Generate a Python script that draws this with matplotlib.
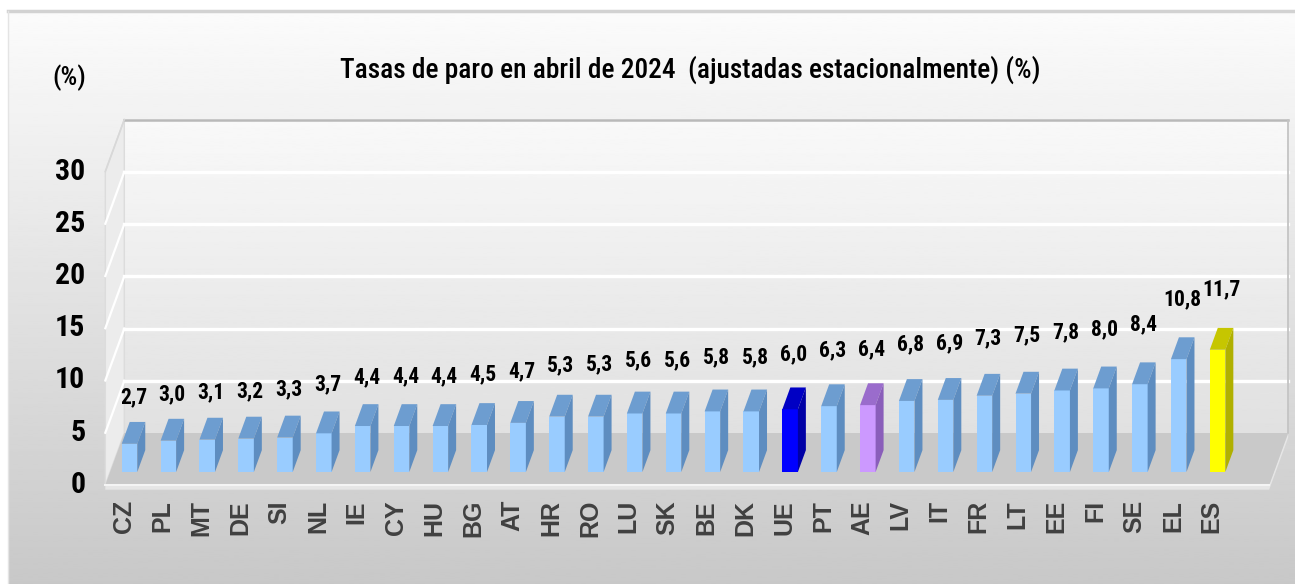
import matplotlib
matplotlib.use('Agg')
import matplotlib.pyplot as plt
import matplotlib.font_manager as fm
from matplotlib.patches import Polygon
import numpy as np

# ==========================================
# datos
# ==========================================
countries = ['CZ', 'PL', 'MT', 'DE', 'SI', 'NL', 'IE', 'CY', 'HU', 'BG',
             'AT', 'HR', 'RO', 'LU', 'SK', 'BE', 'DK', 'UE', 'PT', 'AE',
             'LV', 'IT', 'FR', 'LT', 'EE', 'FI', 'SE', 'EL', 'ES']
rates = [2.7, 3.0, 3.1, 3.2, 3.3, 3.7, 4.4, 4.4, 4.4, 4.5,
         4.7, 5.3, 5.3, 5.6, 5.6, 5.8, 5.8, 6.0, 6.3, 6.4,
         6.8, 6.9, 7.3, 7.5, 7.8, 8.0, 8.4, 10.8, 11.7]
y_ticks = [0, 5, 10, 15, 20, 25, 30]
title = 'Tasas de paro en abril de 2024  (ajustadas estacionalmente) (%)'

# colores (frente, tapa, lateral)
bar_colors = {
    'default': ('#99ccff', '#6d9dd0', '#5e8dc0'),
    'UE': ('#0000ff', '#0000c4', '#0000a6'),
    'AE': ('#cc99ff', '#9a6ccc', '#8a5eba'),
    'ES': ('#ffff00', '#c6c600', '#b0b000'),
}

# ==========================================
# fuentes
# ==========================================
available = {f.name for f in fm.fontManager.ttflist}
NARROW = 'Liberation Sans'
for cand in ['Liberation Sans Narrow', 'Arial Narrow', 'Roboto Condensed',
             'Open Sans Condensed', 'DejaVu Sans Condensed']:
    if cand in available:
        NARROW = cand
        break
IS_NARROW = NARROW != 'Liberation Sans'
BOLD = 'Liberation Sans' if 'Liberation Sans' in available else 'DejaVu Sans'

# ==========================================
# geometria (pixeles -> datos)
# ==========================================
W, H = 1295, 584
X0, XS = 129.5, 38.86     # centro de la barra 0 y separacion
Y0, YS = 472.0, 10.45     # base de las barras y pixeles por punto
DX, DY = 19 / XS, 52 / YS  # desplazamiento de profundidad
XL, XR = -0.5, 29.45
BW, BD = 0.40, 0.42        # ancho y fondo de barra


def proj(x, y, d):
    return x + DX * d, y + DY * d


fig = plt.figure(figsize=(W / 100, H / 100), dpi=100)
fig.patch.set_facecolor('white')

# fondo del grafico
bg = fig.add_axes([0, 0, 1, 1])
bg.set_xlim(0, W)
bg.set_ylim(H, 0)
bg.axis('off')
grad = np.linspace(0.985, 0.785, 256).reshape(-1, 1)
bg.imshow(grad, extent=(8, W, H, 11), aspect='auto', cmap='gray',
          vmin=0, vmax=1, zorder=0)
bg.plot([8, W], [11, 11], color='#d2d2d2', lw=2.5, zorder=1)
bg.plot([8, 8], [11, H], color='#e4e4e4', lw=1.0, zorder=1)

ax = fig.add_axes([0, 0, 1, 1])
ax.patch.set_alpha(0)
ax.axis('off')

# pared del fondo
bx0 = proj(XL, 0, 0.75)[0]
bx1 = proj(XR, 0, 0.75)[0]
by0 = proj(0, 0, 0.75)[1]
by1 = proj(0, 30, 0.75)[1]
wall = np.linspace(0.975, 0.88, 256).reshape(-1, 1)
ax.imshow(wall, extent=(bx0, bx1, by0, by1), aspect='auto', cmap='gray',
          vmin=0, vmax=1, zorder=1)

# pared izquierda
lw_pts = [proj(XL, 0, -0.25), proj(XL, 30, -0.25),
          proj(XL, 30, 0.75), proj(XL, 0, 0.75)]
ax.add_patch(Polygon(lw_pts, closed=True, facecolor='#ececec',
                     edgecolor='#dcdcdc', lw=1.0, zorder=1.2))

# suelo
floor_pts = [proj(XL, 0, -0.25), proj(XR, 0, -0.25),
             proj(XR, 0, 0.75), proj(XL, 0, 0.75)]
ax.add_patch(Polygon(floor_pts, closed=True, facecolor='#c9c9c9',
                     edgecolor='none', zorder=2))
thick = 0.45
edge_pts = [proj(XL, 0, -0.25), proj(XR, 0, -0.25), proj(XR, 0, 0.75),
            proj(XR, -thick, 0.75), proj(XR, -thick, -0.25),
            proj(XL, -thick, -0.25)]
ax.add_patch(Polygon(edge_pts, closed=True, facecolor='#e6e6e6',
                     edgecolor='none', zorder=1.9))

# lineas de division
for g in y_ticks[1:-1]:
    ax.plot([bx0, bx1], [g + DY * 0.75] * 2, color='white', lw=2.4, zorder=1.5)
    p0, p1 = proj(XL, g, -0.25), proj(XL, g, 0.75)
    ax.plot([p0[0], p1[0]], [p0[1], p1[1]], color='white', lw=1.6, zorder=1.5)
ax.plot([bx0, bx1], [by1, by1], color='#b9b9b9', lw=1.8, zorder=1.6)
ax.plot([bx1, bx1], [by0, by1], color='#c4c4c4', lw=1.3, zorder=1.6)
p0, p1 = proj(XL, 30, -0.25), proj(XL, 30, 0.75)
ax.plot([p0[0], p1[0]], [p0[1], p1[1]], color='#d8d8d8', lw=1.2, zorder=1.6)
p0, p1 = proj(XL, 0, -0.25), proj(XR, 0, -0.25)
ax.plot([p0[0], p1[0]], [p0[1], p1[1]], color='#f4f4f4', lw=1.5, zorder=2.1)

# barras
xs = np.arange(len(countries))
front_cols = [bar_colors.get(c, bar_colors['default'])[0] for c in countries]
ax.bar(xs, rates, width=BW, color=front_cols, edgecolor='none', zorder=3)
for i, (c, v) in enumerate(zip(countries, rates)):
    _, top_c, side_c = bar_colors.get(c, bar_colors['default'])
    l, r = i - BW / 2, i + BW / 2
    top = [proj(l, v, 0), proj(r, v, 0), proj(r, v, BD), proj(l, v, BD)]
    side = [proj(r, 0, 0), proj(r, v, 0), proj(r, v, BD), proj(r, 0, BD)]
    ax.add_patch(Polygon(top, closed=True, facecolor=top_c,
                         edgecolor='none', zorder=3))
    ax.add_patch(Polygon(side, closed=True, facecolor=side_c,
                         edgecolor='none', zorder=3))

# etiquetas de datos
lab_size = 15.5 if IS_NARROW else 13
for i, v in enumerate(rates):
    ax.text(i + 0.1, v + 4.4 + 0.05 * i, f'{v:.1f}'.replace('.', ','),
            ha='center', va='center', fontsize=lab_size, fontweight='bold',
            family=NARROW, color='black', zorder=5)

# eje y
for t in y_ticks:
    px, py = proj(XL, t, -0.25)
    ax.text(px - 20 / XS, py, str(t), ha='right', va='center',
            fontsize=21.5 if IS_NARROW else 18, fontweight='bold',
            family=NARROW, color='black', zorder=5)

# categorias
ycat = proj(0, 0, -0.25)[1] - 15 / YS
for i, c in enumerate(countries):
    ax.text(i - 0.15, ycat, c, rotation=90, ha='center', va='top',
            fontsize=18, fontweight='bold', family=BOLD, color='#404040',
            zorder=5)

ax.set_xlim(-X0 / XS, (W - X0) / XS)
ax.set_ylim((Y0 - H) / YS, Y0 / YS)

# titulo
tt = fig.text(690 / W, 1 - 70 / H, title, ha='center', va='center',
              fontsize=20, fontweight='medium', family=NARROW, color='black')
fig.text(69 / W, 1 - 78 / H, '(%)', ha='center', va='center',
         fontsize=19 if IS_NARROW else 16, fontweight='medium', family=NARROW,
         color='black')
fig.canvas.draw()
wpx = tt.get_window_extent().width
tt.set_fontsize(20 * 700 / wpx)

plt.savefig('out.png', dpi=100, facecolor=fig.get_facecolor())
plt.close()
